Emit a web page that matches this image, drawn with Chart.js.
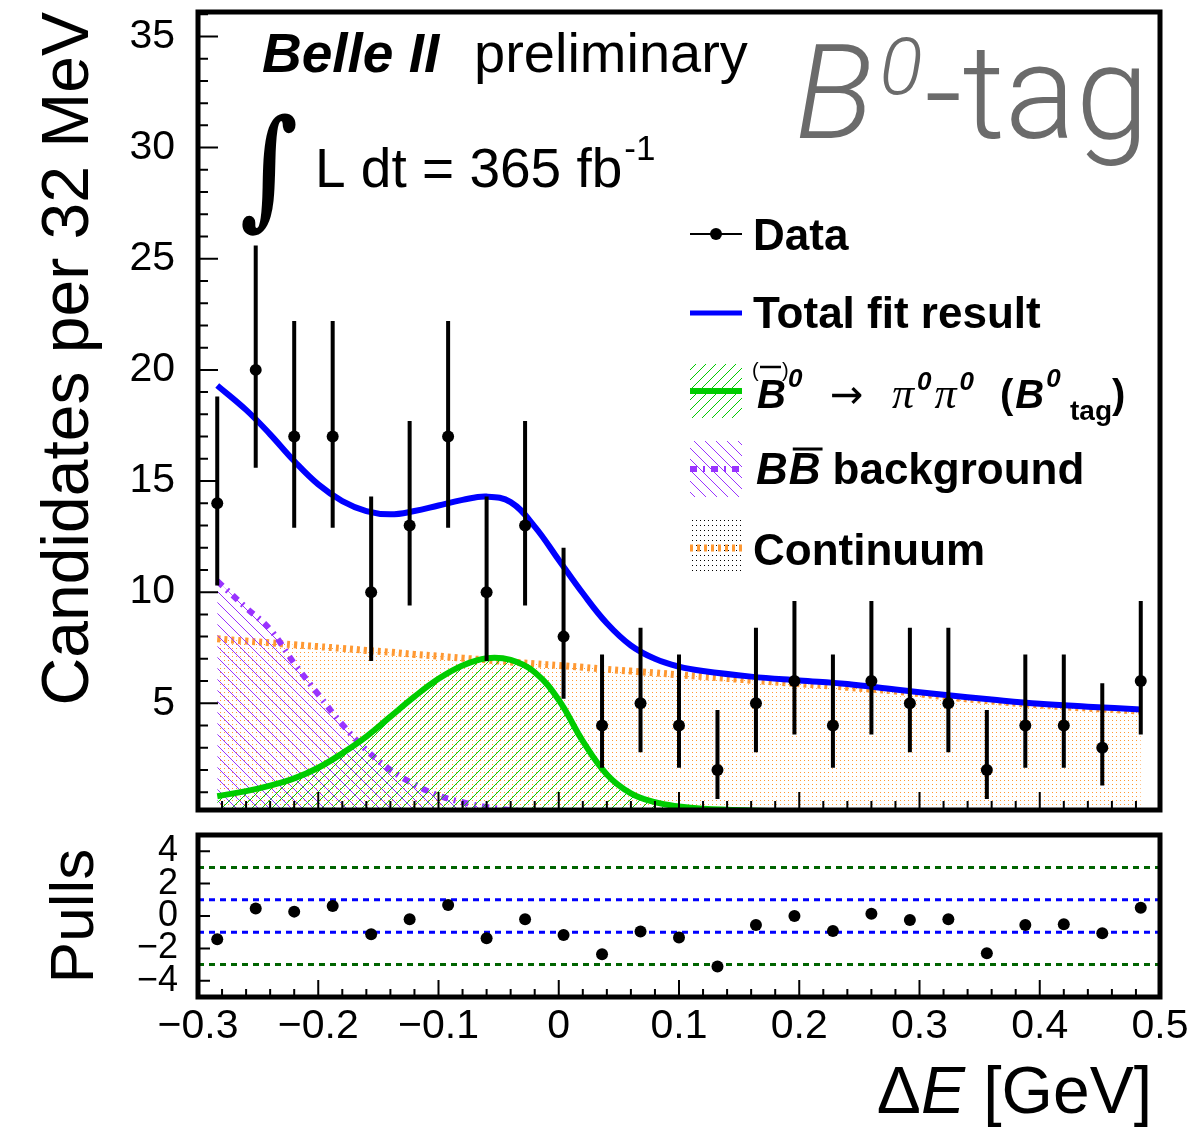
<!DOCTYPE html>
<html>
<head>
<meta charset="utf-8">
<script src="https://cdn.jsdelivr.net/npm/chart.js@4.4.0/dist/chart.umd.min.js"></script>
<style>
html, body { margin:0; padding:0; background:#fff; }
#wrap { position:relative; width:1194px; height:1137px; overflow:hidden; background:#fff; }
#main { position:absolute; left:0; top:0; }
#pull { position:absolute; left:0; top:820px; }
</style>
</head>
<body>
<div id="wrap">
<canvas id="main" width="1194" height="830"></canvas>
<canvas id="pull" width="1194" height="317"></canvas>
</div>
<script>
// ---- data ----
var binCenters = [-0.284, -0.252, -0.220, -0.188, -0.156, -0.124, -0.092, -0.060, -0.028, 0.004,
                  0.036, 0.068, 0.100, 0.132, 0.164, 0.196, 0.228, 0.260, 0.292, 0.324,
                  0.356, 0.388, 0.420, 0.452, 0.484];
var counts  = [14, 20, 17, 17, 10, 13, 17, 10, 13, 8, 4, 5, 4, 2, 5, 6, 4, 6, 5, 5, 2, 4, 4, 3, 6];
var errLow  = [10.3, 15.6, 12.9, 12.9, 6.9, 9.4, 12.9, 6.9, 9.4, 5.2, 2.1, 2.8, 2.1, 0.7, 2.8, 3.6, 2.1, 3.6, 2.8, 2.8, 0.7, 2.1, 2.1, 1.3, 3.6];
var errHigh = [18.8, 25.6, 22.2, 22.2, 14.3, 17.7, 22.2, 14.3, 17.7, 12.0, 7.2, 8.4, 7.2, 4.7, 8.4, 9.6, 7.2, 9.6, 8.4, 8.4, 4.7, 7.2, 7.2, 5.9, 9.6];
var pulls   = [-1.44, 0.47, 0.27, 0.62, -1.13, -0.2, 0.68, -1.37, -0.2, -1.17, -2.36, -0.96, -1.33, -3.12, -0.55, 0.0, -0.92, 0.14, -0.25, -0.2, -2.3, -0.55, -0.51, -1.07, 0.51];

var curveX       = [-0.284, -0.26, -0.24, -0.22, -0.20, -0.18, -0.16, -0.14, -0.12, -0.10, -0.08, -0.06, -0.04, -0.02, 0.00,
                    0.02, 0.04, 0.06, 0.08, 0.10, 0.12, 0.16, 0.20, 0.24, 0.28, 0.32, 0.36, 0.40, 0.44, 0.484];
var totalFit     = [19.3, 18.2, 17.1, 15.9, 14.85, 14.1, 13.65, 13.5, 13.65, 13.9, 14.15, 14.3, 14.05, 12.95, 11.45,
                    9.95, 8.6, 7.6, 7.0, 6.65, 6.45, 6.2, 6.03, 5.87, 5.62, 5.38, 5.17, 4.98, 4.85, 4.72];
var signalPdf    = [0.82, 1.05, 1.3, 1.62, 2.1, 2.75, 3.5, 4.4, 5.3, 6.1, 6.7, 7.03, 6.95, 6.4, 5.15,
                    3.3, 1.8, 0.95, 0.55, 0.36, 0.26, 0.18, 0.14, 0.12, 0.1, 0.09, 0.08, 0.07, 0.06, 0.05];
var bbbarPdf     = [10.5, 9.3, 8.32, 6.8, 5.4, 4.05, 2.9, 2.0, 1.35, 0.85, 0.55, 0.33, 0.2, 0.12, 0.07,
                    0.04, 0.02, 0.01, 0, 0, 0, 0, 0, 0, 0, 0, 0, 0, 0, 0];
var continuumPdf = [7.9, 7.8, 7.72, 7.63, 7.55, 7.47, 7.38, 7.3, 7.2, 7.12, 7.03, 6.95, 6.86, 6.78, 6.7,
                    6.62, 6.53, 6.45, 6.37, 6.28, 6.2, 6.04, 5.88, 5.72, 5.55, 5.3, 5.1, 4.92, 4.78, 4.65];

var yTicksMain = [5, 10, 15, 20, 25, 30, 35];
var yTicksPull = [-4, -2, 0, 2, 4];
var xTicks     = [-0.3, -0.2, -0.1, 0, 0.1, 0.2, 0.3, 0.4, 0.5];
var pullLines  = [3, 1, -1, -3];

var FONT = '"Liberation Sans", Arial, Helvetica, sans-serif';
Chart.defaults.font.family = FONT;
Chart.defaults.color = '#000';

function pts(xs, ys) {
  return xs.map(function (x, i) { return {x: x, y: ys[i]}; });
}
function minus(s) { return String(s).replace('-', '\u2212'); }

var mainCtx = document.getElementById('main').getContext('2d');

// pixel hatch tiles: dir 1 = "/", dir -1 = "\"
function hatch(color, size, dir) {
  var c = document.createElement('canvas');
  c.width = size; c.height = size;
  var g = c.getContext('2d');
  g.fillStyle = color;
  for (var i = 0; i < size; i++) {
    g.fillRect(i, dir > 0 ? size - 1 - i : i, 1, 1);
  }
  return mainCtx.createPattern(c, 'repeat');
}
function dots(color, w, h) {
  var c = document.createElement('canvas');
  c.width = w; c.height = h;
  var g = c.getContext('2d');
  g.fillStyle = color;
  g.fillRect(0, 0, 1, 1);
  return mainCtx.createPattern(c, 'repeat');
}

var greenHatch  = hatch('#00cc00', 10, 1);
var violetHatch = hatch('#9933ff', 11, -1);
var orangeDots  = dots('#ff9933', 4, 4);
var blackDots   = dots('#000000', 4, 5);

function txt(ctx, s, x, y, font, color, align) {
  ctx.font = font;
  ctx.fillStyle = color || '#000';
  ctx.textAlign = align || 'left';
  ctx.textBaseline = 'alphabetic';
  ctx.fillText(s, x, y);
  return x + ctx.measureText(s).width;
}

// frame + inward ticks (ROOT style)
function frameTicks(cfg) {
  return {
    id: 'frameTicks',
    afterDatasetsDraw: function (chart) {
      var ctx = chart.ctx, a = chart.chartArea, xs = chart.scales.x, ys = chart.scales.y;
      var i, v, p, len;
      ctx.save();
      ctx.strokeStyle = '#000';
      ctx.lineWidth = 2;
      ctx.beginPath();
      for (i = 0; i <= cfg.xN; i++) {
        v = cfg.x0 + i * cfg.xStep;
        p = xs.getPixelForValue(v);
        len = (i % cfg.xEvery === 0) ? cfg.xMaj : cfg.xMin;
        ctx.moveTo(p, a.bottom); ctx.lineTo(p, a.bottom - len);
      }
      for (i = 0; i <= cfg.yN; i++) {
        v = cfg.y0 + i * cfg.yStep;
        if (v < ys.min || v > ys.max) continue;
        p = ys.getPixelForValue(v);
        len = (i % cfg.yEvery === 0) ? cfg.yMaj : cfg.yMin;
        ctx.moveTo(a.left, p); ctx.lineTo(a.left + len, p);
      }
      ctx.stroke();
      ctx.lineWidth = 5;
      ctx.strokeRect(a.left, a.top, a.right - a.left, a.bottom - a.top);
      ctx.restore();
    }
  };
}

// asymmetric Poisson error bars under the data markers
var errorBars = {
  id: 'errorBars',
  beforeDatasetDraw: function (chart, args) {
    if (args.index !== 0) return;
    var ctx = chart.ctx, xs = chart.scales.x, ys = chart.scales.y, a = chart.chartArea;
    ctx.save();
    ctx.beginPath();
    ctx.rect(a.left, a.top, a.right - a.left, a.bottom - a.top);
    ctx.clip();
    ctx.strokeStyle = '#000';
    ctx.lineWidth = 4;
    ctx.beginPath();
    for (var i = 0; i < binCenters.length; i++) {
      var px = xs.getPixelForValue(binCenters[i]);
      ctx.moveTo(px, ys.getPixelForValue(errLow[i]));
      ctx.lineTo(px, ys.getPixelForValue(errHigh[i]));
    }
    ctx.stroke();
    ctx.restore();
  }
};

var annotate = {
  id: 'annotate',
  afterDraw: function (chart) {
    var ctx = chart.ctx, x;
    ctx.save();
    txt(ctx, 'Belle II', 262, 72, 'italic bold 55px ' + FONT);
    txt(ctx, 'preliminary', 474, 72, '56px ' + FONT);

    ctx.save();
    ctx.translate(240, 212);
    ctx.scale(1, 1.3);
    txt(ctx, '\u222B', 0, 0, 'bold 100px "DejaVu Serif"');
    ctx.restore();
    x = txt(ctx, 'L dt = 365 fb', 315, 187, '55px ' + FONT);
    txt(ctx, '-1', x + 2, 160, '35px ' + FONT);

    // B0-tag
    var grey = '#6b6b6b';
    x = txt(ctx, 'B', 795, 138, 'italic 300 132px Roboto, ' + FONT, grey);
    x = txt(ctx, '0', x + 6, 94, 'italic 300 80px Roboto, ' + FONT, grey);
    txt(ctx, '-tag', x + 2, 138, '300 132px Roboto, ' + FONT, grey);

    // legend
    var lx0 = 690, lx1 = 742, tx = 753;
    ctx.strokeStyle = '#000'; ctx.lineWidth = 2;
    ctx.beginPath(); ctx.moveTo(lx0, 234); ctx.lineTo(lx1, 234); ctx.stroke();
    ctx.fillStyle = '#000';
    ctx.beginPath(); ctx.arc(716, 234, 6, 0, 2 * Math.PI); ctx.fill();
    txt(ctx, 'Data', tx, 250, 'bold 44px ' + FONT);

    ctx.strokeStyle = '#0000ff'; ctx.lineWidth = 5;
    ctx.beginPath(); ctx.moveTo(lx0, 313); ctx.lineTo(lx1, 313); ctx.stroke();
    txt(ctx, 'Total fit result', tx, 328, 'bold 44px ' + FONT);

    // signal entry
    ctx.fillStyle = greenHatch;
    ctx.fillRect(lx0, 364, lx1 - lx0, 54);
    ctx.strokeStyle = '#00cc00'; ctx.lineWidth = 6;
    ctx.beginPath(); ctx.moveTo(lx0, 391); ctx.lineTo(lx1, 391); ctx.stroke();
    var bi = 'italic bold 40px ' + FONT, sb = 'italic bold 26px ' + FONT;
    x = txt(ctx, 'B', 757, 408, bi);
    txt(ctx, '(', 752, 377, '20px ' + FONT);
    txt(ctx, ')', 782, 377, '20px ' + FONT);
    ctx.strokeStyle = '#000'; ctx.lineWidth = 2.5;
    ctx.beginPath(); ctx.moveTo(760, 367); ctx.lineTo(781, 367); ctx.stroke();
    txt(ctx, '0', x + 2, 387, sb);
    txt(ctx, '\u2192', 830, 408, '40px "DejaVu Sans"');
    x = txt(ctx, '\u03C0', 892, 408, 'italic 44px "Liberation Serif"');
    x = txt(ctx, '0', x + 3, 390, sb);
    x = txt(ctx, '\u03C0', x + 3, 408, 'italic 44px "Liberation Serif"');
    x = txt(ctx, '0', x + 3, 390, sb);
    x = txt(ctx, '(', 1000, 408, 'bold 40px ' + FONT);
    x = txt(ctx, 'B', x + 2, 408, bi);
    txt(ctx, '0', x + 2, 387, sb);
    x = txt(ctx, 'tag', 1070, 420, 'bold 28px ' + FONT);
    txt(ctx, ')', x, 408, 'bold 40px ' + FONT);

    // BBbar entry
    ctx.fillStyle = violetHatch;
    ctx.fillRect(lx0, 441, lx1 - lx0, 56);
    ctx.strokeStyle = '#9933ff'; ctx.lineWidth = 6;
    ctx.setLineDash([7, 6, 2, 6]);
    ctx.beginPath(); ctx.moveTo(lx0, 469); ctx.lineTo(lx1, 469); ctx.stroke();
    ctx.setLineDash([]);
    x = txt(ctx, 'B', 756, 484, 'italic bold 44px ' + FONT);
    var x2 = txt(ctx, 'B', x + 1, 484, 'italic bold 44px ' + FONT);
    ctx.strokeStyle = '#000'; ctx.lineWidth = 3;
    ctx.beginPath(); ctx.moveTo(x + 5, 449); ctx.lineTo(x2 + 2, 449); ctx.stroke();
    txt(ctx, 'background', x2 + 12, 484, 'bold 44px ' + FONT);

    // continuum entry
    ctx.fillStyle = blackDots;
    ctx.fillRect(lx0, 519, lx1 - lx0, 53);
    ctx.strokeStyle = '#ff9933'; ctx.lineWidth = 7;
    ctx.setLineDash([3, 4]);
    ctx.beginPath(); ctx.moveTo(lx0, 548); ctx.lineTo(lx1, 548); ctx.stroke();
    ctx.setLineDash([]);
    txt(ctx, 'Continuum', tx, 565, 'bold 44px ' + FONT);
    ctx.restore();
  }
};

var mainChart = new Chart(mainCtx, {
  type: 'line',
  data: {
    datasets: [
      { label: 'Data', data: pts(binCenters, counts), showLine: false,
        pointRadius: 6, pointBackgroundColor: '#000', pointBorderWidth: 0 },
      { label: 'Total fit result', data: pts(curveX, totalFit), borderColor: '#0000ff', borderWidth: 6,
        pointRadius: 0, fill: false, tension: 0.4 },
      { label: 'Signal', data: pts(curveX, signalPdf), borderColor: '#00cc00', borderWidth: 6,
        backgroundColor: greenHatch, fill: 'origin', pointRadius: 0, tension: 0.4 },
      { label: 'BBbar', data: pts(curveX, bbbarPdf), borderColor: '#9933ff', borderWidth: 6,
        borderDash: [7, 6, 2, 6], backgroundColor: violetHatch, fill: 'origin', pointRadius: 0,
        tension: 0.4 },
      { label: 'Continuum', data: pts(curveX, continuumPdf), borderColor: '#ff9933', borderWidth: 7,
        borderDash: [3, 4], backgroundColor: orangeDots, fill: 'origin', pointRadius: 0,
        tension: 0.4 }
    ]
  },
  options: {
    responsive: false, animation: false, devicePixelRatio: 1,
    layout: { padding: { left: 0, right: 34, top: 12, bottom: 20 } },
    plugins: { legend: { display: false }, tooltip: { enabled: false } },
    scales: {
      x: { type: 'linear', min: -0.3, max: 0.5, display: false },
      y: {
        type: 'linear', min: 0.2, max: 36.1,
        afterBuildTicks: function (s) { s.ticks = yTicksMain.map(function (v) { return {value: v}; }); },
        afterFit: function (s) { s.width = 198; s.paddingTop = 0; s.paddingBottom = 0; },
        grid: { display: false, drawTicks: false }, border: { display: false },
        ticks: { padding: 23, color: '#000', font: { size: 41 }, autoSkip: false },
        title: { display: true, text: 'Candidates per 32 MeV', align: 'end', color: '#000',
                 font: { size: 66, lineHeight: 1 }, padding: { top: 37, bottom: 0 } }
      }
    }
  },
  plugins: [errorBars, frameTicks({x0: -0.3, xStep: 0.02, xN: 40, xEvery: 5, xMaj: 18, xMin: 9,
                                   y0: 0, yStep: 1, yN: 36, yEvery: 5, yMaj: 20, yMin: 10}), annotate]
});

// ---- pull panel ----
var xTitle = {
  id: 'xTitle',
  afterDraw: function (chart) {
    var ctx = chart.ctx, f = '66px ' + FONT, fi = 'italic 66px ' + FONT;
    ctx.save();
    ctx.font = f; var w1 = ctx.measureText('\u0394').width, w3 = ctx.measureText(' [GeV]').width;
    ctx.font = fi; var w2 = ctx.measureText('E').width;
    var x = 1152 - (w1 + w2 + w3);
    x = txt(ctx, '\u0394', x, 293, f);
    x = txt(ctx, 'E', x, 293, fi);
    txt(ctx, ' [GeV]', x, 293, f);
    ctx.restore();
  }
};

var pullDatasets = [
  { label: 'Pulls', data: pts(binCenters, pulls), showLine: false,
    pointRadius: 6, pointBackgroundColor: '#000', pointBorderWidth: 0 }
];
pullLines.forEach(function (v) {
  pullDatasets.push({
    label: 'line' + v, data: [{x: xTicks[0], y: v}, {x: xTicks[xTicks.length - 1], y: v}],
    borderColor: Math.abs(v) === 1 ? '#0000ff' : '#006400', borderWidth: 3, borderDash: [6, 5],
    pointRadius: 0, fill: false
  });
});

var pullChart = new Chart(document.getElementById('pull'), {
  type: 'line',
  data: { datasets: pullDatasets },
  options: {
    responsive: false, animation: false, devicePixelRatio: 1,
    layout: { padding: { left: 0, right: 34, top: 15, bottom: 0 } },
    plugins: { legend: { display: false }, tooltip: { enabled: false } },
    scales: {
      x: {
        type: 'linear', min: -0.3, max: 0.5,
        afterBuildTicks: function (s) { s.ticks = xTicks.map(function (v) { return {value: v}; }); },
        afterFit: function (s) { s.height = 140; s.paddingLeft = 0; s.paddingRight = 0; },
        grid: { display: false, drawTicks: false }, border: { display: false },
        ticks: { padding: 5, color: '#000', font: { size: 41 }, maxRotation: 0, autoSkip: false,
                 callback: function (v) { return v === 0 ? '0' : minus(v.toFixed(1)); } }
      },
      y: {
        type: 'linear', min: -5, max: 5,
        afterBuildTicks: function (s) { s.ticks = yTicksPull.map(function (v) { return {value: v}; }); },
        afterFit: function (s) { s.width = 198; s.paddingTop = 0; s.paddingBottom = 0; },
        grid: { display: false, drawTicks: false }, border: { display: false },
        ticks: { padding: 20, color: '#000', font: { size: 36, lineHeight: 0.8 }, autoSkip: false,
                 callback: function (v) { return minus(v); } },
        title: { display: true, text: 'Pulls', align: 'center', color: '#000',
                 font: { size: 62, lineHeight: 1 }, padding: { top: 45, bottom: 0 } }
      }
    }
  },
  plugins: [frameTicks({x0: -0.3, xStep: 0.02, xN: 40, xEvery: 5, xMaj: 17, xMin: 8,
                        y0: -4, yStep: 2, yN: 4, yEvery: 1, yMaj: 12, yMin: 12}), xTitle]
});
</script>
</body>
</html>
